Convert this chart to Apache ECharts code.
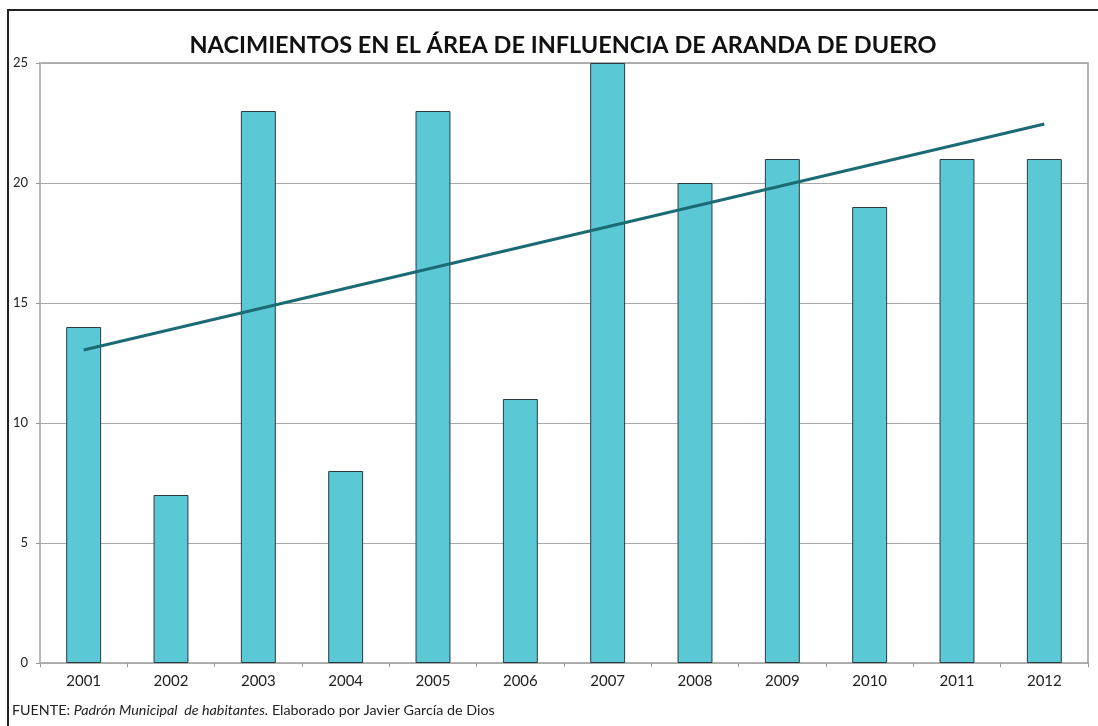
<!DOCTYPE html>
<html>
<head>
<meta charset="utf-8">
<script src="https://cdn.jsdelivr.net/npm/echarts@6/dist/echarts.min.js"></script>
<style>
html,body{margin:0;padding:0;background:#fff;}
#chart{width:1098px;height:726px;}
</style>
</head>
<body>
<div id="chart"></div>
<script>
const years = ['2001','2002','2003','2004','2005','2006','2007','2008','2009','2010','2011','2012'];
const births = [14, 7, 23, 8, 23, 11, 25, 20, 21, 19, 21, 21];
const trend = [13.04, null, null, null, null, null, null, null, null, null, null, 22.46];
const yTicks = [0, 5, 10, 15, 20, 25];

const chart = echarts.init(document.getElementById('chart'));
chart.setOption({
  backgroundColor: '#fff',
  animation: false,
  title: {
    text: 'NACIMIENTOS EN EL ÁREA DE INFLUENCIA DE ARANDA DE DUERO',
    left: 558, top: 28, textAlign: 'center',
    textStyle: { fontFamily: 'Lato', fontWeight: 'bold', fontSize: 23.5, color: '#111' }
  },
  grid: { left: 40, right: 10, top: 63, bottom: 63, show: true, borderColor: '#999', borderWidth: 1.5, backgroundColor: 'transparent' },
  xAxis: {
    type: 'category', data: years,
    axisLine: { lineStyle: { color: '#aaa', width: 1 } },
    axisTick: { show: true, length: 4, lineStyle: { color: '#999' } },
    axisLabel: { color: '#222', fontFamily: 'Lato', fontSize: 15, margin: 11 }
  },
  yAxis: {
    type: 'value', min: yTicks[0], max: yTicks[yTicks.length - 1], interval: 5,
    axisLine: { show: true, lineStyle: { color: '#bbb', width: 1.5 } },
    axisTick: { show: true, length: 4, lineStyle: { color: '#999' } },
    axisLabel: { color: '#222', fontFamily: 'Lato', fontSize: 13, margin: 12 },
    splitLine: { lineStyle: { color: '#aaa', width: 1 } }
  },
  series: [
    {
      type: 'bar', data: births, barWidth: '40%',
      itemStyle: { color: '#5BC8D6', borderColor: '#2b3a40', borderWidth: 1 }
    },
    {
      type: 'line', data: trend, connectNulls: true, symbol: 'none',
      lineStyle: { color: '#1B6B75', width: 3 }
    }
  ],
  graphic: [
    { type: 'rect', shape: { x: 8, y: 10, width: 1100, height: 730 }, style: { fill: 'none', stroke: '#222', lineWidth: 2 } },
    {
      type: 'text', left: 12, top: 703,
      style: {
        text: '{n|FUENTE: }{i|Padrón Municipal  de habitantes.}{n| Elaborado por Javier García de Dios}',
        rich: {
          n: { fontFamily: 'Lato', fontSize: 14.3, fill: '#222' },
          i: { fontFamily: 'Lato', fontStyle: 'italic', fontSize: 14.3, fill: '#222' }
        }
      }
    }
  ]
});
</script>
</body>
</html>
